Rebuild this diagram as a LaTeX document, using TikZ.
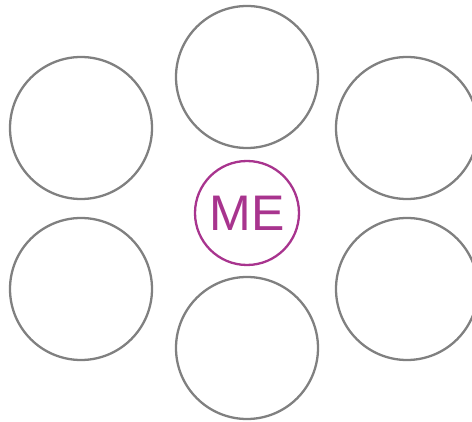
\documentclass[tikz,border=0pt]{standalone}
\usepackage{fontspec}
\setmainfont{Liberation Sans}
\usepackage{xcolor}
\usepackage{tikz}
\usetikzlibrary{positioning}
\definecolor{ringgray}{RGB}{128, 128, 128}
\definecolor{mepurple}{RGB}{168, 52, 142}

\begin{document}
\begin{tikzpicture}[x=1pt, y=-1pt]
            \useasboundingbox (0, 0) rectangle (472, 422);

            \node[circle, draw=mepurple, line width=2.3pt, minimum size=104pt, text=mepurple] (me) at (247, 213) {\fontsize{50}{50}\selectfont ME};

            \node[circle, draw=ringgray, line width=2.3pt, minimum size=142pt] (top) at (247, 77) {};
            \node[circle, draw=ringgray, line width=2.3pt, minimum size=142pt] (topleft) at (81, 128) {};
            \node[circle, draw=ringgray, line width=2.3pt, minimum size=142pt] (topright) at (407, 128) {};
            \node[circle, draw=ringgray, line width=2.3pt, minimum size=142pt] (botleft) at (81, 289) {};
            \node[circle, draw=ringgray, line width=2.3pt, minimum size=142pt] (botright) at (407, 289) {};
            \node[circle, draw=ringgray, line width=2.3pt, minimum size=142pt] (bottom) at (247, 348) {};
        \end{tikzpicture}
\end{document}
